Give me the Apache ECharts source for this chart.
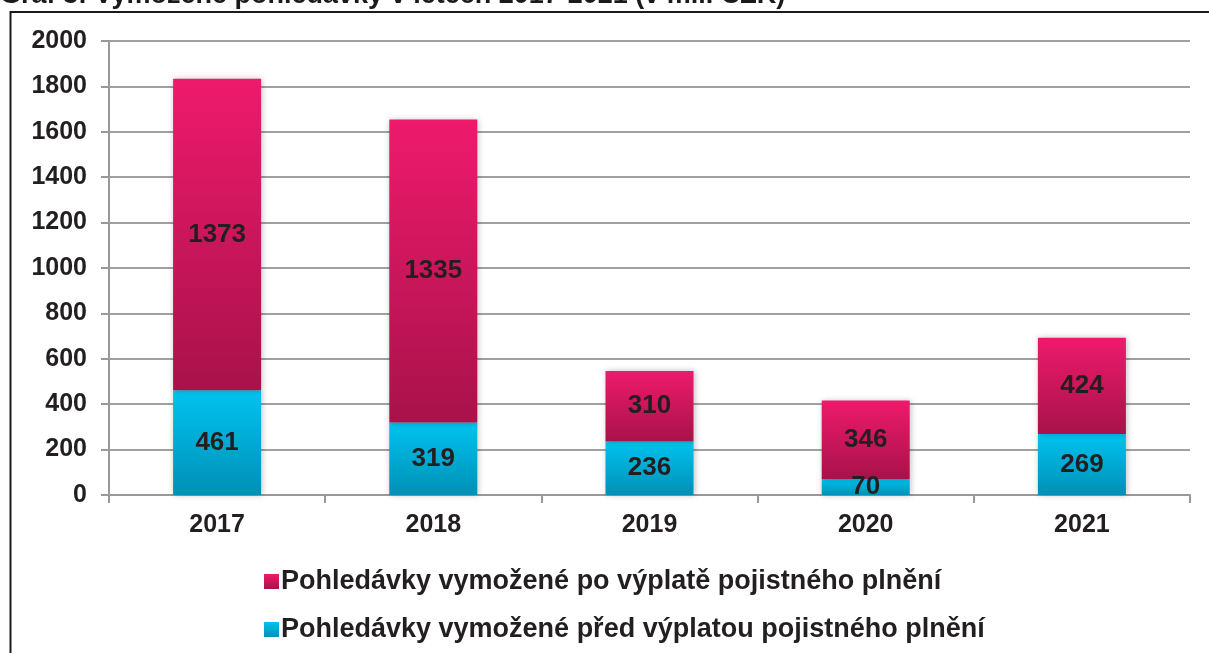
<!DOCTYPE html>
<html>
<head>
    <meta charset="UTF-8">
    <title>Graf 3</title>
    <script src="https://cdn.jsdelivr.net/npm/echarts@6/dist/echarts.min.js"></script>
    <style>
        html, body { margin: 0; padding: 0; background: #fff; }
        #main { width: 1209px; height: 653px; }
    </style>
</head>
<body>
<div id="main"></div>
<script type="text/javascript">
    // data (mil. CZK)
    var years = ['2017', '2018', '2019', '2020', '2021'];
    var pred = [461, 319, 236, 70, 269];
    var po = [1373, 1335, 310, 346, 424];
    var namePo = 'Pohledávky vymožené po výplatě pojistného plnění';
    var namePred = 'Pohledávky vymožené před výplatou pojistného plnění';

    var myChart = echarts.init(document.getElementById('main'));

    function grad(top, bottom) {
        return new echarts.graphic.LinearGradient(0, 0, 0, 1, [
            { offset: 0, color: top },
            { offset: 1, color: bottom }
        ]);
    }

    var labelStyle = {
        show: true,
        position: 'inside',
        color: '#231f20',
        fontFamily: 'Liberation Sans, Arial',
        fontWeight: 'bold',
        fontSize: 26
    };

    var option = {
        animation: false,
        backgroundColor: '#fff',
        textStyle: { fontFamily: 'Liberation Sans, Arial' },
        graphic: [
            {
                type: 'rect',
                shape: { x: 10.5, y: 12, width: 1220, height: 700 },
                style: { fill: 'none', stroke: '#1a1a1a', lineWidth: 2 },
                z: -1
            },
            {
                type: 'text',
                left: 0,
                top: -18,
                style: {
                    text: 'Graf 3: Vymožené pohledávky v letech 2017-2021 (v mil. CZK)',
                    font: 'bold 27px "Liberation Sans", Arial',
                    fill: '#1a1a1a'
                }
            }
        ],
        grid: {
            left: 109,
            right: 19,
            top: 41,
            bottom: 158,
            containLabel: false
        },
        legend: {
            orient: 'vertical',
            left: 259,
            top: 563,
            itemWidth: 15,
            itemHeight: 15,
            itemGap: 21,
            icon: 'rect',
            textStyle: {
                fontSize: 27,
                fontWeight: 'bold',
                color: '#231f20',
                padding: [0, 0, 0, -3]
            },
            data: [namePo, namePred]
        },
        xAxis: {
            type: 'category',
            data: years,
            axisLine: { lineStyle: { color: '#999', width: 2 } },
            axisTick: { show: true, length: 8, lineStyle: { color: '#999', width: 2 } },
            axisLabel: {
                fontSize: 25,
                fontWeight: 'bold',
                color: '#231f20',
                margin: 18
            }
        },
        yAxis: {
            type: 'value',
            min: 0,
            max: 2000,
            interval: 200,
            axisLine: { show: true, lineStyle: { color: '#999', width: 2 } },
            axisTick: { show: true, length: 8, lineStyle: { color: '#999', width: 2 } },
            splitLine: { lineStyle: { color: '#a0a0a0', width: 2 } },
            axisLabel: {
                fontSize: 25,
                fontWeight: 'bold',
                color: '#231f20',
                margin: 22,
                formatter: function (v) { return String(v); }
            }
        },
        series: [
            {
                name: namePred,
                type: 'bar',
                stack: 'total',
                barWidth: 88,
                data: pred,
                itemStyle: {
                    color: grad('#00c3ef', '#0090b5'),
                    shadowColor: 'rgba(0,0,0,0.25)',
                    shadowBlur: 6,
                    shadowOffsetX: 1
                },
                label: labelStyle
            },
            {
                name: namePo,
                type: 'bar',
                stack: 'total',
                barWidth: 88,
                data: po,
                itemStyle: {
                    color: grad('#ee1a6c', '#a8124a'),
                    shadowColor: 'rgba(0,0,0,0.25)',
                    shadowBlur: 6,
                    shadowOffsetX: 1
                },
                label: labelStyle
            }
        ]
    };

    myChart.setOption(option);
</script>
</body>
</html>
